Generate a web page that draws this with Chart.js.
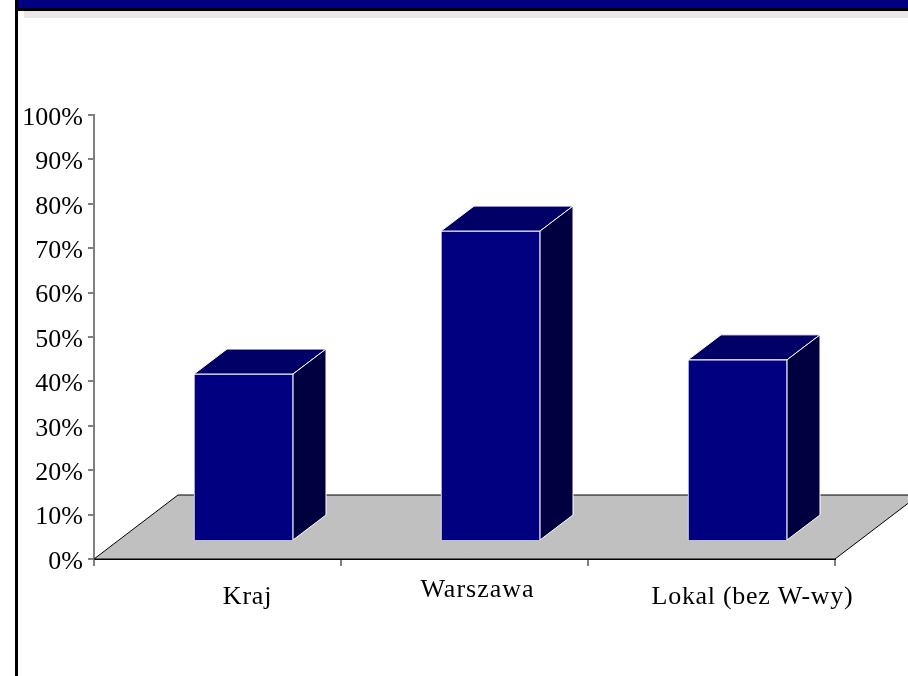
<!DOCTYPE html>
<html>
<head>
<meta charset="utf-8">
<title>Kraj, Warszawa, Lokal</title>
<script src="https://cdn.jsdelivr.net/npm/chart.js@4"></script>
<style>
  html, body { margin: 0; padding: 0; background: #fff; overflow: hidden; }
  #wrap { position: relative; width: 908px; height: 676px; }
  #banner { position: absolute; left: 15px; right: 0; top: 0; height: 8px; background: #000080; border-bottom: 3px solid #000; }
  #frameLeft { position: absolute; left: 15px; top: 0; bottom: 0; width: 3px; background: #000; }
  #strip { position: absolute; left: 24px; right: 0; top: 11px; height: 7px; background: #e8e8e8; }
  #chart { position: absolute; left: 0; top: 0; }
</style>
</head>
<body>
<div id="wrap">
  <canvas id="chart" width="908" height="676"></canvas>
  <div id="strip"></div>
  <div id="banner"></div>
  <div id="frameLeft"></div>
</div>
<script>
const categories = ['Kraj', 'Warszawa', 'Lokal (bez W-wy)'];
const shares = [37.6, 69.8, 40.8];

const FONT = '"Liberation Serif", "Times New Roman", serif';

// fake 3d: floor depth, how far the bars stand in on it, and the depth of a bar
const floorDepth = { x: 84, y: 64 };
const barShift = { x: 26, y: 18 };
const barDepth = { x: 33, y: 25 };

// the category labels in the original are placed by hand, not centred
const labelLook = [
  { dx: 30, y: 604, spacing: '0.8px' },
  { dx: 13, y: 597, spacing: '1px' },
  { dx: 41, y: 604, spacing: '0.7px' },
];

function fillPoly(ctx, points, fill, stroke) {
  ctx.beginPath();
  points.forEach((p, i) => (i ? ctx.lineTo(p[0], p[1]) : ctx.moveTo(p[0], p[1])));
  ctx.closePath();
  ctx.fillStyle = fill;
  ctx.fill();
  ctx.strokeStyle = stroke;
  ctx.lineWidth = 1;
  ctx.stroke();
}

const fake3d = {
  id: 'fake3d',
  beforeDraw(chart) {
    // liberation serif sits higher than the original labels, push them down a bit
    chart.scales.y.getLabelItems().forEach(item => {
      if (!item.moved) {
        item.options.translation[1] += 3;
        item.moved = true;
      }
    });
  },
  beforeDatasetsDraw(chart) {
    const { ctx, chartArea: a } = chart;
    const dx = floorDepth.x;
    const dy = floorDepth.y;
    ctx.save();
    fillPoly(ctx, [
      [a.left, a.bottom], [a.right, a.bottom],
      [a.right + dx, a.bottom - dy], [a.left + dx, a.bottom - dy],
    ], '#c0c0c0', '#000');
    ctx.restore();
  },
  beforeDatasetDraw(chart, args) {
    const { ctx } = chart;
    ctx.save();
    ctx.translate(barShift.x, -barShift.y);
    args.meta.data.forEach(bar => {
      const p = bar.getProps(['x', 'y', 'base', 'width'], true);
      const l = p.x - p.width / 2;
      const r = p.x + p.width / 2;
      const dx = barDepth.x;
      const dy = barDepth.y;
      fillPoly(ctx, [[l, p.y], [r, p.y], [r + dx, p.y - dy], [l + dx, p.y - dy]], '#000066', '#ffffff');
      fillPoly(ctx, [[r, p.y], [r + dx, p.y - dy], [r + dx, p.base - dy], [r, p.base]], '#000040', '#ffffff');
    });
  },
  afterDatasetDraw(chart) {
    chart.ctx.restore();
  },
  afterDraw(chart) {
    const { ctx, scales } = chart;
    ctx.save();
    ctx.font = '26px ' + FONT;
    ctx.fillStyle = '#000';
    ctx.textAlign = 'center';
    ctx.textBaseline = 'alphabetic';
    categories.forEach((name, i) => {
      const look = labelLook[i];
      ctx.letterSpacing = look.spacing;
      ctx.fillText(name, scales.x.getPixelForValue(i) + look.dx, look.y);
    });
    ctx.restore();
  },
};

new Chart(document.getElementById('chart').getContext('2d'), {
  type: 'bar',
  data: {
    labels: categories,
    datasets: [{
      data: shares,
      backgroundColor: '#000080',
      borderColor: '#ffffff',
      borderWidth: 1,
      barThickness: 99,
      clip: false,
    }],
  },
  options: {
    responsive: false,
    animation: false,
    layout: { padding: { left: 0, top: 115, right: 73, bottom: 0 } },
    plugins: { legend: { display: false }, tooltip: { enabled: false } },
    scales: {
      x: {
        afterFit(scale) { scale.height = 117; },
        border: { color: '#000', width: 2 },
        grid: { drawOnChartArea: false, offset: true, tickLength: 7, color: '#808080', lineWidth: 2 },
        ticks: { display: false },
      },
      y: {
        min: 0,
        max: 100,
        afterFit(scale) { scale.width = 94; },
        border: { color: '#808080', width: 2 },
        grid: { drawOnChartArea: false, tickLength: 6, color: '#808080', lineWidth: 2 },
        ticks: {
          stepSize: 10,
          padding: 5,
          color: '#000',
          font: { family: FONT, size: 26 },
          callback: value => value + '%',
        },
      },
    },
  },
  plugins: [fake3d],
});
</script>
</body>
</html>
